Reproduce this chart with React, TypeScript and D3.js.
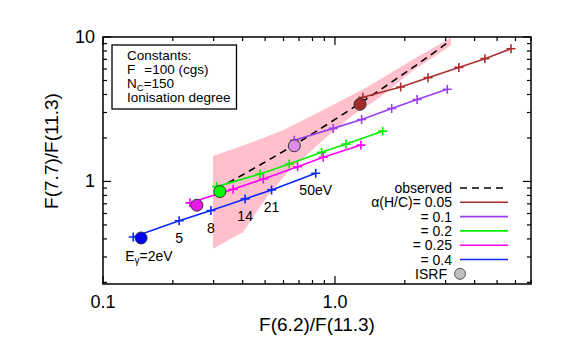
import * as d3 from "d3";

// F(6.2)/F(11.3) vs F(7.7)/F(11.3), PAH band ratios for several alpha(H/C)
const energyLabels = ["2eV", "5", "8", "14", "21", "50eV"];

const alphaLabels = ["0.05", "0.1", "0.2", "0.25", "0.4"];
const lineColors = ["#aa2e2e", "#9b3ef0", "#00f000", "#ff00ff", "#0a28ff"];
const circleFills = ["#a52a2a", "#e08be8", "#00ff00", "#e81ae8", "#0000ff"];

const x005 = [1.32, 1.92, 2.52, 3.42, 4.43, 5.74];
const y005 = [3.83, 4.51, 5.23, 6.16, 7.08, 8.29];
const x01 = [0.668, 0.983, 1.303, 1.756, 2.26, 3.05];
const y01 = [1.93, 2.33, 2.685, 3.2, 3.69, 4.35];
const x02 = [0.309, 0.475, 0.635, 0.876, 1.115, 1.605];
const y02 = [0.921, 1.126, 1.32, 1.59, 1.814, 2.23];
const x025 = [0.237, 0.364, 0.491, 0.69, 0.89, 1.294];
const y025 = [0.711, 0.884, 1.04, 1.265, 1.469, 1.785];
const x04 = [0.135, 0.213, 0.292, 0.41, 0.533, 0.826];
const y04 = [0.412, 0.534, 0.629, 0.757, 0.874, 1.139];

// ISRF points, same order as alphaLabels
const isrfX = [1.282, 0.668, 0.319, 0.254, 0.146];
const isrfY = [3.42, 1.766, 0.851, 0.685, 0.406];

// observed relation + its uncertainty band
const obsX = [0.346, 0.665, 1.282, 2.17, 3.07];
const obsY = [0.976, 1.785, 3.48, 6.16, 9.16];
const bandUpX = [0.298, 0.431, 0.597, 0.835, 1.374, 2.04, 3.16];
const bandUpY = [1.499, 1.843, 2.265, 2.97, 4.48, 6.57, 9.92];
const bandLoX = [0.298, 0.401, 0.509, 0.621, 0.887, 1.161, 1.563, 2.17, 3.16];
const bandLoY = [0.342, 0.445, 0.782, 1.145, 1.93, 2.785, 3.83, 5.87, 8.74];

const xMajor = [0.1, 1];
const xTickLabels = ["0.1", "1.0"];
const xMinor = [0.2, 0.3, 0.4, 0.5, 0.6, 0.7, 0.8, 0.9, 2, 3, 4, 5, 6, 7];
const yMajor = [1, 10];
const yTickLabels = ["1", "10"];
const yMinor = [0.2, 0.3, 0.4, 0.5, 0.6, 0.7, 0.8, 0.9, 2, 3, 4, 5, 6, 7, 8, 9];

const seriesX = [x005, x01, x02, x025, x04];
const seriesY = [y005, y01, y02, y025, y04];

const FONT = "'Liberation Sans', Arial, Helvetica, sans-serif";

function App() {
  const W = 561;
  const H = 350;
  const left = 103, right = 531, top = 37, bottom = 284;

  const x = d3.scaleLog().domain([0.1, 7]).range([left, right]);
  const y = d3.scaleLog().domain([0.195, 10]).range([bottom, top]);

  const line = d3
    .line<[number, number]>()
    .x((d) => x(d[0]))
    .y((d) => y(d[1]));

  const obsLine = d3
    .line<[number, number]>()
    .x((d) => x(d[0]))
    .y((d) => y(d[1]))
    .curve(d3.curveNatural);

  const bandPts: [number, number][] = [
    ...bandUpX.map((v, i) => [v, bandUpY[i]] as [number, number]),
    ...bandLoX.map((v, i) => [v, bandLoY[i]] as [number, number]).reverse(),
  ];

  const plus = (cx: number, cy: number, c: string, k: string) => (
    <path
      key={k}
      d={`M${cx - 4.5},${cy}H${cx + 4.5}M${cx},${cy - 4.5}V${cy + 4.5}`}
      stroke={c}
      strokeWidth={1.6}
    />
  );

  const legendRight = 452;
  const legendRow0 = 188;
  const rowH = 14.3;

  return (
    <svg
      width={W}
      height={H}
      style={{ position: "absolute", left: 0, top: 0, background: "#fff" }}
      fontFamily={FONT}
    >
      <rect width={W} height={H} fill="#fff" />

      {/* uncertainty band */}
      <path d={line(bandPts) + "Z"} fill="#ffc0cb" stroke="none" />

      {/* observed */}
      <path
        d={obsLine(obsX.map((v, i) => [v, obsY[i]] as [number, number])) || ""}
        fill="none"
        stroke="#000"
        strokeWidth={1.6}
        strokeDasharray="7,5"
      />

      {/* model series */}
      {seriesX.map((xs, s) => {
        const pts = xs.map((v, i) => [v, seriesY[s][i]] as [number, number]);
        return (
          <g key={s}>
            <path d={line(pts) || ""} fill="none" stroke={lineColors[s]} strokeWidth={1.6} />
            {pts.map((p, i) => plus(x(p[0]), y(p[1]), lineColors[s], `p${s}-${i}`))}
          </g>
        );
      })}

      {/* ISRF circles */}
      {isrfX.map((v, i) => (
        <circle
          key={i}
          cx={x(v)}
          cy={y(isrfY[i])}
          r={6}
          fill={circleFills[i]}
          stroke="#333"
          strokeWidth={1}
        />
      ))}

      {/* energy labels along the alpha=0.4 track */}
      <g fontSize={14} fill="#000">
        {energyLabels.map((t, i) => {
          const px = x(x04[i]);
          const py = y(y04[i]) + 22;
          if (i === 0) {
            return (
              <text key={i} x={px - 8} y={py + 2}>
                E<tspan fontSize={10} dy={3}>γ</tspan>
                <tspan dy={-3}>=2eV</tspan>
              </text>
            );
          }
          return (
            <text key={i} x={px} y={py} textAnchor="middle">
              {t}
            </text>
          );
        })}
      </g>

      {/* frame */}
      <rect
        x={left}
        y={top}
        width={right - left}
        height={bottom - top}
        fill="none"
        stroke="#000"
        strokeWidth={1.5}
      />

      {/* ticks */}
      <g stroke="#000" strokeWidth={1.2}>
        {xMajor.map((v) => (
          <g key={"xm" + v}>
            <line x1={x(v)} x2={x(v)} y1={bottom} y2={bottom - 8} />
            <line x1={x(v)} x2={x(v)} y1={top} y2={top + 8} />
          </g>
        ))}
        {xMinor.map((v) => (
          <g key={"xn" + v}>
            <line x1={x(v)} x2={x(v)} y1={bottom} y2={bottom - 4} />
            <line x1={x(v)} x2={x(v)} y1={top} y2={top + 4} />
          </g>
        ))}
        {yMajor.map((v) => (
          <g key={"ym" + v}>
            <line x1={left} x2={left + 8} y1={y(v)} y2={y(v)} />
            <line x1={right} x2={right - 8} y1={y(v)} y2={y(v)} />
          </g>
        ))}
        {yMinor.map((v) => (
          <g key={"yn" + v}>
            <line x1={left} x2={left + 4} y1={y(v)} y2={y(v)} />
            <line x1={right} x2={right - 4} y1={y(v)} y2={y(v)} />
          </g>
        ))}
      </g>

      {/* tick labels */}
      <g fontSize={18} fill="#000">
        {xMajor.map((v, i) => (
          <text key={"xl" + v} x={x(v)} y={308} textAnchor="middle">
            {xTickLabels[i]}
          </text>
        ))}
        {yMajor.map((v, i) => (
          <text key={"yl" + v} x={95} y={y(v) + 6} textAnchor="end">
            {yTickLabels[i]}
          </text>
        ))}
      </g>

      {/* axis titles */}
      <text x={317} y={331} fontSize={19} textAnchor="middle">
        F(6.2)/F(11.3)
      </text>
      <text
        transform="translate(58,151) rotate(-90)"
        fontSize={19}
        textAnchor="middle"
      >
        F(7.7)/F(11.3)
      </text>

      {/* constants box */}
      <rect x={112} y={45} width={124.5} height={64} fill="#fff" stroke="#000" strokeWidth={1.3} />
      <g fontSize={13.5} fill="#000">
        <text x={127} y={60}>Constants:</text>
        <text x={127} y={74}>
          F<tspan dx={9}>=100 (cgs)</tspan>
        </text>
        <text x={127} y={88}>
          N<tspan fontSize={9.5} dy={3}>C</tspan>
          <tspan dy={-3}>=150</tspan>
        </text>
        <text x={127} y={102}>Ionisation degree</text>
      </g>

      {/* legend */}
      <g fontSize={14} fill="#000">
        <text x={legendRight} y={legendRow0 + 5} textAnchor="end">
          observed
        </text>
        <line
          x1={460}
          x2={508}
          y1={legendRow0}
          y2={legendRow0}
          stroke="#000"
          strokeWidth={1.6}
          strokeDasharray="7,5"
        />
        {alphaLabels.map((a, i) => {
          const ry = legendRow0 + rowH * (i + 1);
          return (
            <g key={a}>
              <text x={legendRight} y={ry + 5} textAnchor="end">
                {i === 0 ? `α(H/C)= ${a}` : `= ${a}`}
              </text>
              <line x1={460} x2={508} y1={ry} y2={ry} stroke={lineColors[i]} strokeWidth={1.6} />
            </g>
          );
        })}
        <text x={447} y={legendRow0 + rowH * 6 + 5} textAnchor="end">
          ISRF
        </text>
        <circle
          cx={460}
          cy={legendRow0 + rowH * 6}
          r={5.5}
          fill="#c0c0c0"
          stroke="#555"
          strokeWidth={1}
        />
      </g>
    </svg>
  );
}

export default App;
